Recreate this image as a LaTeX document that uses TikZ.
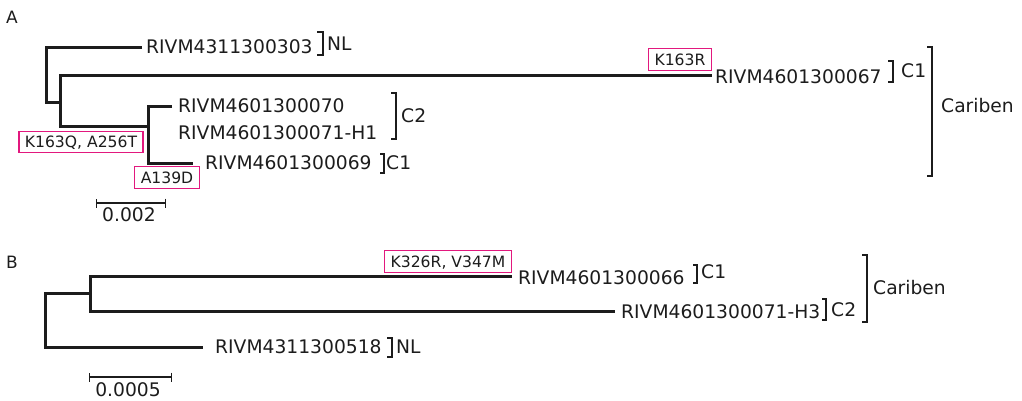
\documentclass[tikz,border=0pt]{standalone}
\usepackage{fontspec}
\setmainfont{DejaVu Sans}
\usepackage{tikz}
\usetikzlibrary{positioning,arrows.meta}
\usepackage{xcolor}
\definecolor{mutpink}{RGB}{226,24,126}
\definecolor{ink}{RGB}{28,28,28}

\begin{document}
\begin{tikzpicture}[x=1pt,y=-1pt,
  branch/.style={line width=3pt,draw=ink},
  brk/.style={line width=1.4pt,draw=ink},
  leaf/.style={anchor=west,inner sep=0pt,text height=13.6pt,text depth=0pt,text=ink,font=\fontsize{18.7}{20}\selectfont},
  mut/.style={draw=mutpink,line width=1.3pt,inner xsep=6pt,inner ysep=5pt,text height=11.4pt,text depth=0pt,text=ink,font=\fontsize{15.6}{18}\selectfont},
  panel/.style={anchor=west,inner sep=0pt,text=ink,font=\fontsize{17}{19}\selectfont},
  scalebar/.style={line width=1.8pt,draw=ink,{Bar[width=9pt,line width=1.4pt]}-{Bar[width=9pt,line width=1.4pt]}}]
\useasboundingbox (0,0) rectangle (1022,400);

% panel A
\node[panel] (pA) at (6,17) {A};
\coordinate (rootA) at (46,102);
\coordinate (nA) at (60,102);
\coordinate (nB) at (148,126);
\coordinate (t303) at (142,47);
\coordinate (t067) at (712,75);
\coordinate (t070) at (172,106);
\coordinate (t069) at (193,163);
\draw[branch] (t303) -| (rootA) -- (nA);
\draw[branch] (t067) -| (nA) |- (nB);
\draw[branch] (t070) -| (nB) |- (t069);

\node[leaf,right=4pt of t303] (l303) {RIVM4311300303};
\node[leaf,right=3pt of t067,yshift=-2pt] (l067) {RIVM4601300067};
\node[leaf,right=6pt of t070] (l070) {RIVM4601300070};
\node[leaf] (l071a) at (178,133) {RIVM4601300071-H1};
\node[leaf,right=12pt of t069] (l069) {RIVM4601300069};

\draw[brk] (317,32) -| (323,55) -- (317,55);
\node[leaf] (nlA) at (327,44) {NL};
\draw[brk] (888,61) -| (893,82) -- (888,82);
\node[leaf] (c1a) at (901,71) {C1};
\draw[brk] (391,93) -| (396,139) -- (391,139);
\node[leaf] (c2a) at (401,116) {C2};
\draw[brk] (380,154) -| (384,173) -- (380,173);
\node[leaf] (c1b) at (386,163) {C1};
\draw[brk] (927,47) -| (932,176) -- (927,176);
\node[leaf] (carA) at (941,106) {Cariben};

\node[mut] (m163r) at (680,59.5) {K163R};
\node[mut] (m163q) at (81,142) {K163Q, A256T};
\node[mut] (m139d) at (167,177.5) {A139D};

\coordinate (sa1) at (96,203);
\coordinate (sa2) at (166,203);
\draw[scalebar] (sa1) -- (sa2);
\node[leaf,anchor=center] (sa) at (129,215) {0.002};

% panel B
\node[panel] (pB) at (6,262) {B};
\coordinate (rootB) at (45,293);
\coordinate (mB) at (90,293);
\coordinate (t066) at (512,276);
\coordinate (t071) at (615,311);
\coordinate (t518) at (203,347);
\draw[branch] (t066) -| (mB) |- (t071);
\draw[branch] (mB) -- (rootB) |- (t518);

\node[leaf,right=6pt of t066,yshift=-2pt] (l066) {RIVM4601300066};
\node[leaf,right=6pt of t071,yshift=-1pt] (l071b) {RIVM4601300071-H3};
\node[leaf,right=12pt of t518] (l518) {RIVM4311300518};

\draw[brk] (693,265) -| (697,283) -- (693,283);
\node[leaf] (c1B) at (701,272) {C1};
\draw[brk] (822,299) -| (826,320) -- (822,320);
\node[leaf] (c2B) at (831,310) {C2};
\draw[brk] (387,338) -| (392,357) -- (387,357);
\node[leaf] (nlB) at (396,347) {NL};
\draw[brk] (862,255) -| (867,322) -- (862,322);
\node[leaf] (carB) at (873,288) {Cariben};

\node[mut] (m326r) at (448,261.5) {K326R, V347M};

\coordinate (sb1) at (89,377);
\coordinate (sb2) at (172,377);
\draw[scalebar] (sb1) -- (sb2);
\node[leaf,anchor=center] (sb) at (128,390) {0.0005};
\end{tikzpicture}
\end{document}
